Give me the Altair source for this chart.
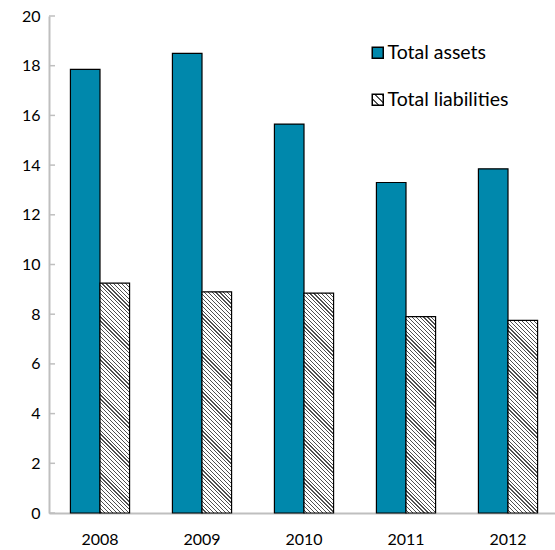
import json
import altair as alt

# ---- data -------------------------------------------------------------
years = ["2008", "2009", "2010", "2011", "2012"]
total_assets = [17.85, 18.5, 15.65, 13.3, 13.85]
total_liabilities = [9.25, 8.9, 8.85, 7.9, 7.75]
series_names = ["Total assets", "Total liabilities"]
y_ticks = [0, 2, 4, 6, 8, 10, 12, 14, 16, 18, 20]

# ---- styling / geometry ----------------------------------------------
TEAL = "#0088AC"
AXIS_GREY = "#BFBFBF"
INK = "#505050"
FONT = "Lato"
PLOT_W, PLOT_H = 506, 497
X_RANGE = 510
Y_MAX = 20
PAD_INNER = 0.42

step = X_RANGE / len(years)
bar_w = step * (1 - PAD_INNER) / 2


def hatch(w, h, period=3.9, line=1.2):
    """Linear gradient with hard stops that draws '\\' diagonal hatching
    on a w x h rectangle (gradient coordinates are bbox-relative)."""
    total = w + h
    q = total / (w * w + h * h)
    stops = []
    s = 0.0
    while s < total:
        a = round(s / total, 5)
        b = round(min(s + line, total) / total, 5)
        c = round(min(s + period, total) / total, 5)
        stops += [
            {"offset": a, "color": INK},
            {"offset": b, "color": INK},
            {"offset": b, "color": "white"},
            {"offset": c, "color": "white"},
        ]
        s += period
    return {"gradient": "linear", "x1": 1, "y1": 0,
            "x2": round(1 - w * q, 5), "y2": round(h * q, 5), "stops": stops}


records = []
for yr, a, l in zip(years, total_assets, total_liabilities):
    records.append({"year": yr, "series": series_names[0], "value": a, "paint": TEAL})
    records.append({"year": yr, "series": series_names[1], "value": l,
                    "paint": hatch(bar_w, l * PLOT_H / Y_MAX)})

legend_hatch = hatch(11, 11, period=7.3, line=2.2)

bars = alt.Chart(alt.Data(values=records)).mark_bar(
    stroke="black", strokeWidth=1.2
).encode(
    x=alt.X("year:N", sort=years,
            scale=alt.Scale(range=[0, X_RANGE], paddingInner=PAD_INNER,
                            paddingOuter=PAD_INNER / 2),
            axis=alt.Axis(title=None, labelAngle=0, ticks=False,
                          domainColor=AXIS_GREY, domainWidth=2,
                          labelPadding=18, labelFontSize=16, labelFont=FONT,
                          labelColor="black")),
    xOffset=alt.XOffset("series:N", sort=series_names),
    y=alt.Y("value:Q", stack=None,
            scale=alt.Scale(domain=[0, Y_MAX], nice=False),
            axis=alt.Axis(title=None, values=y_ticks, ticks=False, grid=False,
                          domainColor=AXIS_GREY, domainWidth=2,
                          labelPadding=9, labelFontSize=16, labelFont=FONT,
                          labelColor="black")),
    fill=alt.Fill("paint:N", scale=None),
)

# inward tick marks on the value axis
tick_marks = alt.Chart(alt.Data(values=[{"value": t} for t in y_ticks])).mark_rule(
    color=AXIS_GREY, strokeWidth=1.5
).encode(
    y=alt.Y("value:Q"),
    x=alt.value(0),
    x2=alt.value(6),
)

# legend carrier (draws no marks itself)
legend_layer = alt.Chart(alt.Data(values=[{"series": s} for s in series_names])).mark_bar(
    stroke="black", strokeWidth=1.5
).encode(
    color=alt.Color(
        "series:N",
        scale=alt.Scale(domain=series_names,
                        range=[TEAL, alt.ExprRef(json.dumps(legend_hatch))]),
        legend=alt.Legend(title=None, orient="none", legendX=319, legendY=27,
                          symbolType="square", symbolSize=121,
                          symbolStrokeColor="black", symbolStrokeWidth=1.5,
                          labelFont=FONT, labelFontSize=19.5, labelColor="black",
                          labelOffset=0, rowPadding=26, padding=0),
    )
).transform_filter("false")

chart = alt.layer(tick_marks, bars, legend_layer).properties(
    width=PLOT_W,
    height=PLOT_H,
    padding={"left": 49, "top": 16, "right": 0, "bottom": 37},
    autosize="none",
).configure_view(stroke=None)

chart.save("out.html", embed_options={"renderer": "svg", "actions": False})
